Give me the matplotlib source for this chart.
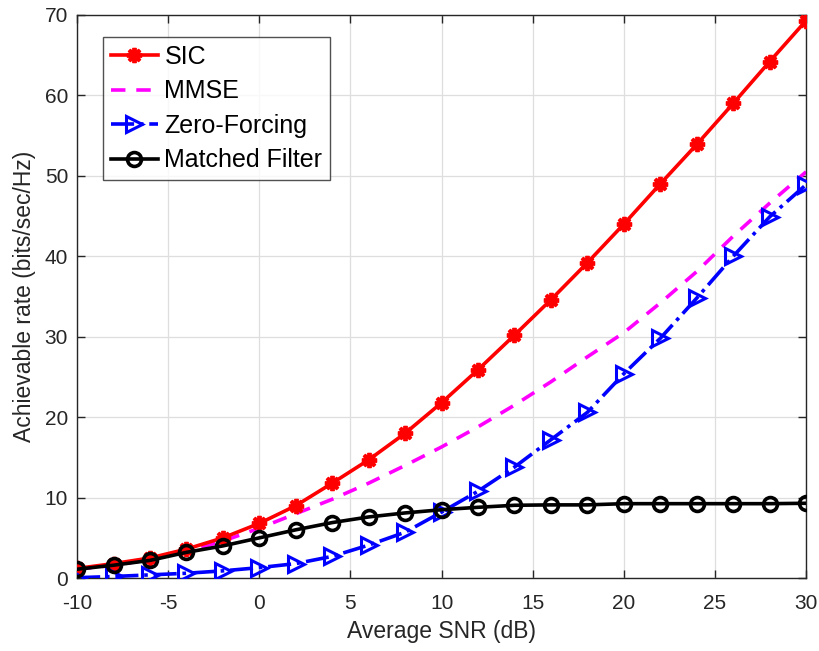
import matplotlib
matplotlib.use("Agg")
import matplotlib.pyplot as plt

plt.rcParams['font.family'] = ['Liberation Sans', 'DejaVu Sans']

snr_db = [-10, -8, -6, -4, -2, 0, 2, 4, 6, 8, 10, 12, 14, 16, 18, 20, 22, 24, 26, 28, 30]

rate_sic = [1.2, 1.8, 2.5, 3.6, 5.0, 6.8, 9.0, 11.8, 14.7, 18.0, 21.8,
            25.9, 30.2, 34.6, 39.2, 44.0, 49.0, 53.9, 59.0, 64.2, 69.3]
rate_mmse = [1.1, 1.6, 2.3, 3.3, 4.6, 6.2, 8.0, 9.8, 11.8, 14.0, 16.3,
             18.8, 21.5, 24.4, 27.5, 30.5, 34.2, 38.1, 42.5, 46.6, 50.5]
rate_zf = [0.05, 0.2, 0.4, 0.6, 0.9, 1.3, 1.8, 2.7, 4.1, 5.7, 8.2,
           10.8, 13.8, 17.2, 20.6, 25.4, 29.8, 34.8, 40.0, 44.9, 48.9]
rate_mf = [1.1, 1.6, 2.2, 3.2, 4.0, 5.0, 6.0, 6.9, 7.6, 8.1, 8.5,
           8.8, 9.05, 9.1, 9.1, 9.25, 9.25, 9.25, 9.25, 9.25, 9.3]

x_ticks = [-10, -5, 0, 5, 10, 15, 20, 25, 30]
y_ticks = [0, 10, 20, 30, 40, 50, 60, 70]

fig = plt.figure(figsize=(8.2, 6.51), dpi=100)
ax = fig.add_axes([0.094, 0.112, 0.889, 0.865])

lw = 2.6
ax.plot(snr_db, rate_sic, color='#ff0000', lw=lw, marker=(8, 2, 0),
        markersize=11, markeredgewidth=2.8, label='SIC', zorder=3)
ax.plot(snr_db, rate_mmse, color='#ff00ff', lw=lw, ls=(0, (4, 3)),
        label='MMSE', zorder=2)
ax.plot(snr_db, rate_zf, color='#0000ff', lw=lw, ls='-.', marker='>',
        markersize=11.5, markerfacecolor='none', markeredgewidth=2.2,
        label='Zero-Forcing', zorder=4)
ax.plot(snr_db, rate_mf, color='#000000', lw=lw, marker='o',
        markersize=10, markerfacecolor='none', markeredgewidth=2.6,
        label='Matched Filter', zorder=5)

ax.set_xlim(-10, 30)
ax.set_ylim(0, 70)
ax.set_xticks(x_ticks)
ax.set_yticks(y_ticks)
ax.set_xticklabels([str(t) for t in x_ticks])
ax.grid(True, color='#dedede', lw=0.9)
ax.set_axisbelow(True)

axis_col = '#262626'
for s in ax.spines.values():
    s.set_color(axis_col)
    s.set_linewidth(1.0)
ax.tick_params(direction='in', length=6, width=1.0, colors=axis_col,
               labelsize=15, top=True, right=True)
ax.tick_params(axis='x', pad=11.5)
ax.tick_params(axis='y', pad=6.5)

ax.set_xlabel('Average SNR (dB)', fontsize=16.5, color=axis_col, labelpad=5)
ax.set_ylabel('Achievable rate (bits/sec/Hz)', fontsize=16.5, color=axis_col, labelpad=6)

leg = ax.legend(loc='upper left', bbox_to_anchor=(0.035, 0.961), fontsize=18,
                frameon=True, fancybox=False, edgecolor=axis_col,
                handlelength=1.9, borderpad=0.32, labelspacing=0.42,
                handletextpad=0.25, borderaxespad=0.0)
leg.get_frame().set_linewidth(1.0)

fig.savefig('out.png', dpi=100, facecolor='white')
